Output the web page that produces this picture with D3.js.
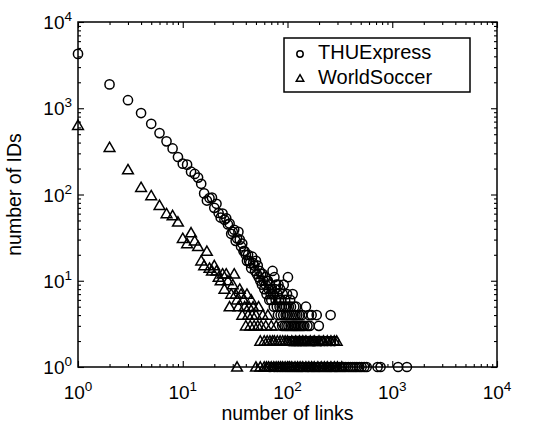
<!DOCTYPE html>
<html>
<head>
<meta charset="utf-8">
<script src="https://cdn.jsdelivr.net/npm/d3@7"></script>
<style>
  body { margin: 0; background: #fff; }
  svg { display: block; font-family: "Liberation Sans", Arial, Helvetica, sans-serif; }
</style>
</head>
<body>
<div id="chart"></div>
<script>
// series names
const seriesNames = ["THUExpress", "WorldSoccer"];

// THUExpress: [number of links, number of IDs]
const thuExpress = [
  [1, 4270], [2, 1890], [3, 1240], [4, 880], [5, 660], [6, 515], [7, 413], [8, 342], [9, 272], [10, 228],
  [11, 222], [12, 184], [13, 173], [14, 157], [15, 133], [16, 103], [17, 85], [18, 91], [19, 92], [20, 70],
  [21, 78], [22, 61], [23, 54], [24, 60], [25, 51], [26, 53], [27, 45], [28, 46], [29, 35], [30, 37],
  [31, 39], [32, 29], [33, 31], [34, 37], [35, 30], [36, 25], [37, 27], [38, 22], [39, 22], [40, 20],
  [41, 17], [42, 20], [43, 17], [44, 16], [45, 14], [46, 19], [47, 16], [48, 15], [49, 13], [50, 17],
  [51, 12], [52, 15], [53, 11], [54, 13], [55, 10], [56, 12], [57, 9], [58, 12], [59, 10], [60, 8],
  [61, 11], [62, 9], [63, 7], [64, 10], [65, 10], [66, 8], [67, 6], [68, 9], [69, 7], [70, 6],
  [71, 8], [72, 13], [73, 7], [74, 5], [75, 11], [76, 8], [77, 6], [78, 9], [79, 5], [80, 7],
  [81, 4], [82, 9], [83, 6], [84, 5], [85, 8], [86, 4], [87, 6], [88, 5], [89, 3], [90, 7],
  [91, 4], [92, 9], [93, 5], [94, 3], [95, 6], [96, 4], [97, 5], [98, 3], [99, 7], [100, 4],
  [101, 11], [102, 3], [103, 5], [104, 2], [105, 4], [106, 6], [107, 3], [108, 5], [109, 2], [110, 4],
  [111, 3], [112, 7], [113, 2], [114, 4], [115, 3], [116, 5], [117, 2], [118, 3], [119, 4], [120, 2],
  [121, 5], [122, 3], [124, 4], [125, 2], [126, 3], [128, 2], [130, 4], [131, 3], [133, 2], [135, 3],
  [136, 2], [138, 4], [140, 3], [142, 2], [145, 3], [147, 2], [150, 5], [152, 2], [155, 3], [158, 2],
  [160, 4], [163, 3], [165, 2], [170, 4], [172, 2], [176, 2], [180, 2], [185, 2], [190, 4], [195, 2],
  [199, 3], [205, 2], [210, 2], [225, 2], [240, 2], [258, 4], [260, 2], [280, 2],
  [68, 1], [75, 1], [80, 1], [85, 1], [90, 1], [95, 1], [100, 1], [105, 1], [110, 1], [115, 1],
  [120, 1], [125, 1], [130, 1], [135, 1], [140, 1], [148, 1], [155, 1], [160, 1], [168, 1], [175, 1],
  [182, 1], [190, 1], [198, 1], [205, 1], [215, 1], [225, 1], [235, 1], [245, 1], [255, 1], [265, 1],
  [280, 1], [290, 1], [300, 1], [315, 1], [330, 1], [345, 1], [360, 1], [380, 1], [400, 1], [420, 1],
  [440, 1], [460, 1], [485, 1], [510, 1], [540, 1], [570, 1], [724, 1], [773, 1], [1137, 1], [1380, 1]
];

// WorldSoccer: [number of links, number of IDs]
const worldSoccer = [
  [1, 634], [2, 352], [3, 194], [4, 121], [5, 97], [6, 75], [7, 60], [8, 57], [9, 48], [10, 31],
  [11, 27], [12, 36], [13, 29], [14, 25], [15, 17], [16, 15], [17, 22], [18, 14], [19, 13], [20, 15],
  [21, 13], [22, 11], [23, 10], [24, 12], [25, 8], [26, 12], [27, 10], [28, 5], [29, 7], [30, 9],
  [31, 12], [32, 7], [33, 6], [34, 5], [35, 8], [36, 7], [37, 4], [38, 6], [39, 5], [40, 3],
  [41, 7], [42, 4], [43, 5], [44, 3], [45, 6], [46, 4], [47, 5], [48, 3], [50, 4], [52, 3],
  [53, 5], [55, 2], [56, 3], [58, 4], [60, 2], [62, 3], [64, 2], [65, 4], [68, 2], [70, 3],
  [72, 2], [75, 2], [78, 3], [80, 2], [85, 2], [90, 2], [95, 2], [100, 2], [110, 2], [120, 2],
  [130, 2], [140, 2], [150, 2], [165, 2], [180, 2], [200, 2], [220, 2], [240, 2], [260, 2], [280, 2],
  [295, 2],
  [33, 1], [50, 1], [55, 1], [60, 1], [63, 1], [66, 1], [70, 1], [74, 1], [78, 1], [82, 1],
  [86, 1], [90, 1], [95, 1], [100, 1], [105, 1], [110, 1], [118, 1], [125, 1], [132, 1], [140, 1],
  [150, 1], [160, 1], [170, 1], [180, 1], [195, 1], [210, 1], [225, 1], [240, 1], [260, 1], [280, 1],
  [300, 1], [330, 1]
];

// axis ticks
const majorTicks = [1, 10, 100, 1000, 10000];
const tickExponents = ["0", "1", "2", "3", "4"];

let margin = { top: 22, right: 38, bottom: 61, left: 78 };
let width = 535 - margin.left - margin.right;
let height = 428 - margin.top - margin.bottom;

let svg = d3.select('#chart').append('svg')
    .attr('width', 535)
    .attr('height', 428);

let g = svg.append('g')
    .attr('transform', 'translate(' + margin.left + ',' + margin.top + ')');

let xScale = d3.scaleLog().domain([1, 10000]).range([0, width]);
let yScale = d3.scaleLog().domain([1, 10000]).range([height, 0]);

// minor ticks 2..9 of each decade
let minorTicks = [];
for (let i = 0; i < 4; i++) {
    for (let k = 2; k < 10; k++) minorTicks.push(k * Math.pow(10, i));
}

function drawAxis(axisFn, scale, transform, size, values) {
    let ax = g.append('g')
        .attr('transform', transform)
        .call(axisFn(scale).tickValues(values).tickSize(size).tickFormat(''));
    ax.select('.domain').remove();
    ax.selectAll('line').attr('stroke', '#000').attr('stroke-width', 1.1);
    return ax;
}

// inward ticks on all four sides
[[d3.axisBottom, xScale, 'translate(0,' + height + ')'],
 [d3.axisTop, xScale, 'translate(0,0)'],
 [d3.axisLeft, yScale, 'translate(0,0)'],
 [d3.axisRight, yScale, 'translate(' + width + ',0)']].forEach(function (a) {
    drawAxis(a[0], a[1], a[2], -6, majorTicks);
    drawAxis(a[0], a[1], a[2], -3, minorTicks);
});

// frame
g.append('rect')
    .attr('width', width)
    .attr('height', height)
    .attr('fill', 'none')
    .attr('stroke', '#000')
    .attr('stroke-width', 1.5);

// tick labels: 10 with superscript exponent
let xLabels = g.append('g').selectAll('text').data(majorTicks).enter().append('text')
    .attr('x', function (d) { return xScale(d); })
    .attr('y', height + 32)
    .attr('text-anchor', 'middle')
    .attr('font-size', 19);
xLabels.append('tspan').text('10');
xLabels.append('tspan').attr('dy', -8).attr('font-size', 13.5)
    .text(function (d, i) { return tickExponents[i]; });

let yLabels = g.append('g').selectAll('text').data(majorTicks).enter().append('text')
    .attr('x', -6)
    .attr('y', function (d) { return yScale(d) + 7; })
    .attr('text-anchor', 'end')
    .attr('font-size', 19);
yLabels.append('tspan').text('10');
yLabels.append('tspan').attr('dy', -8).attr('font-size', 13.5)
    .text(function (d, i) { return tickExponents[i]; });

// axis titles
g.append('text')
    .attr('x', width / 2)
    .attr('y', height + 53)
    .attr('text-anchor', 'middle')
    .attr('font-size', 19.5)
    .text('number of links');

g.append('text')
    .attr('transform', 'translate(' + (-57) + ',' + (height / 2) + ') rotate(-90)')
    .attr('text-anchor', 'middle')
    .attr('font-size', 19.5)
    .text('number of IDs');

// markers
let triangle = d3.symbol().type(d3.symbolTriangle).size(50);

let plot = g.append('g');
plot.selectAll('path.ws').data(worldSoccer).enter().append('path')
    .attr('class', 'ws')
    .attr('d', triangle)
    .attr('transform', function (d) { return 'translate(' + xScale(d[0]) + ',' + (yScale(d[1]) + 1) + ')'; })
    .attr('fill', 'none')
    .attr('stroke', '#000')
    .attr('stroke-width', 1.5);

plot.selectAll('circle.thu').data(thuExpress).enter().append('circle')
    .attr('class', 'thu')
    .attr('cx', function (d) { return xScale(d[0]); })
    .attr('cy', function (d) { return yScale(d[1]); })
    .attr('r', 4.6)
    .attr('fill', 'none')
    .attr('stroke', '#000')
    .attr('stroke-width', 1.5);

// legend
let legend = g.append('g').attr('transform', 'translate(' + (284 - margin.left) + ',' + (38 - margin.top) + ')');
legend.append('rect')
    .attr('width', 186)
    .attr('height', 54)
    .attr('fill', '#fff')
    .attr('stroke', '#000')
    .attr('stroke-width', 1.5);
legend.append('circle')
    .attr('cx', 16).attr('cy', 16).attr('r', 3.2)
    .attr('fill', 'none').attr('stroke', '#000').attr('stroke-width', 1.5);
legend.append('path')
    .attr('d', d3.symbol().type(d3.symbolTriangle).size(24))
    .attr('transform', 'translate(16,41)')
    .attr('fill', 'none').attr('stroke', '#000').attr('stroke-width', 1.5);
legend.selectAll('text.lg').data(seriesNames).enter().append('text')
    .attr('class', 'lg')
    .attr('x', 34)
    .attr('y', function (d, i) { return 21 + i * 25; })
    .attr('font-size', 20)
    .text(function (d) { return d; });
</script>
</body>
</html>
